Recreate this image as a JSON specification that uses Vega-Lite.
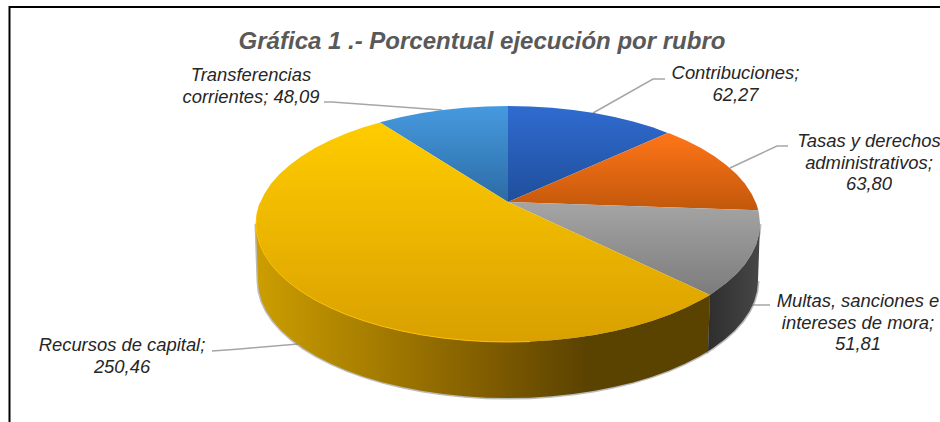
{"$schema":"https://vega.github.io/schema/vega-lite/v6.json","width":940,"height":422,"padding":0,"autosize":{"type":"none"},"background":"white","view":{"stroke":null},
"title":{"text":"Gráfica 1 .- Porcentual ejecución por rubro","anchor":"middle","frame":"group","offset":0,"baseline":"alphabetic","dx":12,"dy":73,"font":"Liberation Sans","fontSize":24,"fontStyle":"italic","fontWeight":"bold","color":"#595959"},
"datasets":{
"marco":[{"i":0,"x":9.5,"y":422},{"i":1,"x":9.5,"y":7},{"i":2,"x":940,"y":7}],
"guias":[
{"s":"Contribuciones","i":0,"x":593,"y":113},{"s":"Contribuciones","i":1,"x":653,"y":79},{"s":"Contribuciones","i":2,"x":665,"y":79},
{"s":"Tasas","i":0,"x":730,"y":168},{"s":"Tasas","i":1,"x":777,"y":146},{"s":"Tasas","i":2,"x":788,"y":146},
{"s":"Transferencias","i":0,"x":324,"y":102},{"s":"Transferencias","i":1,"x":332,"y":102},{"s":"Transferencias","i":2,"x":442,"y":110},
{"s":"Recursos","i":0,"x":212,"y":351},{"s":"Recursos","i":1,"x":240,"y":349},{"s":"Recursos","i":2,"x":298,"y":344},
{"s":"Multas","i":0,"x":747,"y":309},{"s":"Multas","i":1,"x":753,"y":305},{"s":"Multas","i":2,"x":770,"y":305}],
"rotulos":[
{"rubro":"Contribuciones","valor":62.27,"label":"Contribuciones;\n62,27","x":735.5,"y":79},
{"rubro":"Tasas y derechos administrativos","valor":63.80,"label":"Tasas y derechos\nadministrativos;\n63,80","x":869,"y":147},
{"rubro":"Multas, sanciones e intereses de mora","valor":51.81,"label":"Multas, sanciones e\nintereses de mora;\n51,81","x":858,"y":307},
{"rubro":"Recursos de capital","valor":250.46,"label":"Recursos de capital;\n250,46","x":122,"y":351},
{"rubro":"Transferencias corrientes","valor":48.09,"label":"Transferencias\ncorrientes; 48,09","x":251,"y":81}],
"ladoMultas":[{"i":0,"x":760,"y":224},{"i":1,"x":759,"y":234.3},{"i":2,"x":756.2,"y":244.5},{"i":3,"x":751.4,"y":254.5},{"i":4,"x":744.8,"y":264.4},{"i":5,"x":736.4,"y":273.9},{"i":6,"x":726.2,"y":283},{"i":7,"x":714.4,"y":291.7},{"i":8,"x":710,"y":295},{"i":9,"x":708,"y":351.2},{"i":10,"x":712.7,"y":348.2},{"i":11,"x":724.5,"y":339.5},{"i":12,"x":734.6,"y":330.5},{"i":13,"x":742.9,"y":321.1},{"i":14,"x":749.5,"y":311.3},{"i":15,"x":754.2,"y":301.3},{"i":16,"x":757,"y":291.2},{"i":17,"x":758,"y":281}],
"ladoRecursos":[{"i":0,"x":710,"y":295},{"i":1,"x":701,"y":299.9},{"i":2,"x":686.2,"y":307.4},{"i":3,"x":670,"y":314.4},{"i":4,"x":652.5,"y":320.7},{"i":5,"x":634,"y":326.2},{"i":6,"x":614.5,"y":330.9},{"i":7,"x":594.2,"y":334.9},{"i":8,"x":573.2,"y":338},{"i":9,"x":551.7,"y":340.2},{"i":10,"x":530,"y":341.6},{"i":11,"x":508,"y":342},{"i":12,"x":486,"y":341.6},{"i":13,"x":464.3,"y":340.2},{"i":14,"x":442.8,"y":338},{"i":15,"x":421.8,"y":334.9},{"i":16,"x":401.5,"y":330.9},{"i":17,"x":382,"y":326.2},{"i":18,"x":363.5,"y":320.7},{"i":19,"x":346,"y":314.4},{"i":20,"x":329.8,"y":307.4},{"i":21,"x":315,"y":299.9},{"i":22,"x":301.6,"y":291.7},{"i":23,"x":289.8,"y":283},{"i":24,"x":279.6,"y":273.9},{"i":25,"x":271.2,"y":264.4},{"i":26,"x":264.6,"y":254.5},{"i":27,"x":259.8,"y":244.5},{"i":28,"x":257,"y":234.3},{"i":29,"x":256,"y":224},{"i":30,"x":258,"y":281},{"i":31,"x":259,"y":291.2},{"i":32,"x":261.8,"y":301.3},{"i":33,"x":266.5,"y":311.3},{"i":34,"x":273.1,"y":321.1},{"i":35,"x":281.4,"y":330.5},{"i":36,"x":291.5,"y":339.5},{"i":37,"x":303.3,"y":348.2},{"i":38,"x":316.5,"y":356.3},{"i":39,"x":331.2,"y":363.7},{"i":40,"x":347.3,"y":370.7},{"i":41,"x":364.7,"y":376.9},{"i":42,"x":383,"y":382.4},{"i":43,"x":402.4,"y":387},{"i":44,"x":422.5,"y":391},{"i":45,"x":443.3,"y":394.1},{"i":46,"x":464.6,"y":396.3},{"i":47,"x":486.2,"y":397.7},{"i":48,"x":508,"y":398},{"i":49,"x":529.8,"y":397.7},{"i":50,"x":551.4,"y":396.3},{"i":51,"x":572.7,"y":394.1},{"i":52,"x":593.5,"y":391},{"i":53,"x":613.6,"y":387},{"i":54,"x":633,"y":382.4},{"i":55,"x":651.3,"y":376.9},{"i":56,"x":668.7,"y":370.7},{"i":57,"x":684.8,"y":363.7},{"i":58,"x":699.5,"y":356.3},{"i":59,"x":708,"y":351.2}],
"contribuciones":[{"i":0,"x":508,"y":202},{"i":1,"x":508,"y":106},{"i":2,"x":530,"y":106.4},{"i":3,"x":551.7,"y":107.8},{"i":4,"x":573.2,"y":110},{"i":5,"x":594.2,"y":113.1},{"i":6,"x":614.5,"y":117.1},{"i":7,"x":634,"y":121.8},{"i":8,"x":652.5,"y":127.3},{"i":9,"x":667.7,"y":133}],
"tasas":[{"i":0,"x":508,"y":202},{"i":1,"x":667.7,"y":133},{"i":2,"x":670,"y":133.6},{"i":3,"x":686.2,"y":140.6},{"i":4,"x":701,"y":148.1},{"i":5,"x":714.4,"y":156.3},{"i":6,"x":726.2,"y":165},{"i":7,"x":736.4,"y":174.1},{"i":8,"x":744.8,"y":183.6},{"i":9,"x":751.4,"y":193.5},{"i":10,"x":756.2,"y":203.5},{"i":11,"x":758.3,"y":210.3}],
"multas":[{"i":0,"x":508,"y":202},{"i":1,"x":758.3,"y":210.3},{"i":2,"x":759,"y":213.7},{"i":3,"x":760,"y":224},{"i":4,"x":759,"y":234.3},{"i":5,"x":756.2,"y":244.5},{"i":6,"x":751.4,"y":254.5},{"i":7,"x":744.8,"y":264.4},{"i":8,"x":736.4,"y":273.9},{"i":9,"x":726.2,"y":283},{"i":10,"x":714.4,"y":291.7},{"i":11,"x":710,"y":295}],
"recursos":[{"i":0,"x":508,"y":202},{"i":1,"x":710,"y":295},{"i":2,"x":701,"y":299.9},{"i":3,"x":686.2,"y":307.4},{"i":4,"x":670,"y":314.4},{"i":5,"x":652.5,"y":320.7},{"i":6,"x":634,"y":326.2},{"i":7,"x":614.5,"y":330.9},{"i":8,"x":594.2,"y":334.9},{"i":9,"x":573.2,"y":338},{"i":10,"x":551.7,"y":340.2},{"i":11,"x":530,"y":341.6},{"i":12,"x":508,"y":342},{"i":13,"x":486,"y":341.6},{"i":14,"x":464.3,"y":340.2},{"i":15,"x":442.8,"y":338},{"i":16,"x":421.8,"y":334.9},{"i":17,"x":401.5,"y":330.9},{"i":18,"x":382,"y":326.2},{"i":19,"x":363.5,"y":320.7},{"i":20,"x":346,"y":314.4},{"i":21,"x":329.8,"y":307.4},{"i":22,"x":315,"y":299.9},{"i":23,"x":301.6,"y":291.7},{"i":24,"x":289.8,"y":283},{"i":25,"x":279.6,"y":273.9},{"i":26,"x":271.2,"y":264.4},{"i":27,"x":264.6,"y":254.5},{"i":28,"x":259.8,"y":244.5},{"i":29,"x":257,"y":234.3},{"i":30,"x":256,"y":224},{"i":31,"x":257,"y":213.7},{"i":32,"x":259.8,"y":203.5},{"i":33,"x":264.6,"y":193.5},{"i":34,"x":271.2,"y":183.6},{"i":35,"x":279.6,"y":174.1},{"i":36,"x":289.8,"y":165},{"i":37,"x":301.6,"y":156.3},{"i":38,"x":315,"y":148.1},{"i":39,"x":329.8,"y":140.6},{"i":40,"x":346,"y":133.6},{"i":41,"x":363.5,"y":127.3},{"i":42,"x":380,"y":122.4}],
"borde":[{"i":0,"x":530,"y":341.6},{"i":1,"x":508,"y":342},{"i":2,"x":486,"y":341.6},{"i":3,"x":464.3,"y":340.2},{"i":4,"x":442.8,"y":338},{"i":5,"x":421.8,"y":334.9},{"i":6,"x":401.5,"y":330.9},{"i":7,"x":382,"y":326.2},{"i":8,"x":363.5,"y":320.7},{"i":9,"x":346,"y":314.4},{"i":10,"x":329.8,"y":307.4},{"i":11,"x":315,"y":299.9},{"i":12,"x":301.6,"y":291.7},{"i":13,"x":289.8,"y":283},{"i":14,"x":279.6,"y":273.9},{"i":15,"x":271.2,"y":264.4},{"i":16,"x":264.6,"y":254.5},{"i":17,"x":259.8,"y":244.5},{"i":18,"x":257,"y":234.3},{"i":19,"x":256,"y":224},{"i":20,"x":257,"y":213.7},{"i":21,"x":259.8,"y":203.5}],
"transferencias":[{"i":0,"x":508,"y":202},{"i":1,"x":380,"y":122.4},{"i":2,"x":382,"y":121.8},{"i":3,"x":401.5,"y":117.1},{"i":4,"x":421.8,"y":113.1},{"i":5,"x":442.8,"y":110},{"i":6,"x":464.3,"y":107.8},{"i":7,"x":486,"y":106.4},{"i":8,"x":508,"y":106}]
},
"encoding":{"x":{"field":"x","type":"quantitative","scale":{"domain":[0,940],"nice":false,"zero":false},"axis":null},"y":{"field":"y","type":"quantitative","scale":{"domain":[422,0],"nice":false,"zero":false},"axis":null}},
"layer":[
{"data":{"name":"marco"},"mark":{"type":"line","stroke":"#000000","strokeWidth":2,"clip":false},"encoding":{"order":{"field":"i"}}},
{"data":{"name":"guias"},"mark":{"type":"line","stroke":"#A6A6A6","strokeWidth":1.5},"encoding":{"order":{"field":"i"},"detail":{"field":"s"}}},
{"data":{"name":"ladoRecursos"},"mark":{"type":"line","stroke":"#777777","strokeOpacity":0.5,"strokeWidth":3},"encoding":{"order":{"field":"i"}}},
{"data":{"name":"ladoMultas"},"mark":{"type":"line","stroke":"#777777","strokeOpacity":0.5,"strokeWidth":3},"encoding":{"order":{"field":"i"}}},
{"data":{"name":"ladoRecursos"},"mark":{"type":"line","strokeWidth":0,"fill":{"gradient":"linear","x1":0,"y1":0,"x2":1,"y2":0,"stops":[{"offset":0,"color":"#CC9E00"},{"offset":0.53,"color":"#7D5A00"},{"offset":0.73,"color":"#5A4200"},{"offset":1,"color":"#5A4200"}]}},"encoding":{"order":{"field":"i"}}},
{"data":{"name":"ladoMultas"},"mark":{"type":"line","strokeWidth":0,"fill":{"gradient":"linear","x1":0,"y1":0,"x2":1,"y2":0,"stops":[{"offset":0,"color":"#2E2E2E"},{"offset":1,"color":"#474747"}]}},"encoding":{"order":{"field":"i"}}},
{"data":{"name":"contribuciones"},"mark":{"type":"line","strokeWidth":0,"fill":{"gradient":"linear","x1":0,"y1":0,"x2":0,"y2":1,"stops":[{"offset":0,"color":"#2F6BCF"},{"offset":1,"color":"#1F4F9C"}]}},"encoding":{"order":{"field":"i"}}},
{"data":{"name":"tasas"},"mark":{"type":"line","strokeWidth":0,"fill":{"gradient":"linear","x1":0,"y1":0,"x2":0,"y2":1,"stops":[{"offset":0,"color":"#FF7518"},{"offset":1,"color":"#C2580B"}]}},"encoding":{"order":{"field":"i"}}},
{"data":{"name":"multas"},"mark":{"type":"line","strokeWidth":0,"fill":{"gradient":"linear","x1":0,"y1":0,"x2":0,"y2":1,"stops":[{"offset":0,"color":"#A5A5A5"},{"offset":1,"color":"#7C7C7C"}]}},"encoding":{"order":{"field":"i"}}},
{"data":{"name":"transferencias"},"mark":{"type":"line","strokeWidth":0,"fill":{"gradient":"linear","x1":0,"y1":0,"x2":0,"y2":1,"stops":[{"offset":0,"color":"#469ADF"},{"offset":1,"color":"#2C6BA5"}]}},"encoding":{"order":{"field":"i"}}},
{"data":{"name":"recursos"},"mark":{"type":"line","strokeWidth":0,"fill":{"gradient":"linear","x1":0,"y1":0,"x2":0,"y2":1,"stops":[{"offset":0,"color":"#FFCC00"},{"offset":1,"color":"#D9A000"}]}},"encoding":{"order":{"field":"i"}}},
{"data":{"name":"borde"},"mark":{"type":"line","stroke":"#FFC000","strokeWidth":1},"encoding":{"order":{"field":"i"}}},
{"data":{"name":"rotulos"},"mark":{"type":"text","lineBreak":"\n","lineHeight":21.5,"align":"center","baseline":"alphabetic","font":"Liberation Sans","fontStyle":"italic","fontSize":18.4,"color":"#262626","clip":false},"encoding":{"text":{"field":"label"}}}
]}
